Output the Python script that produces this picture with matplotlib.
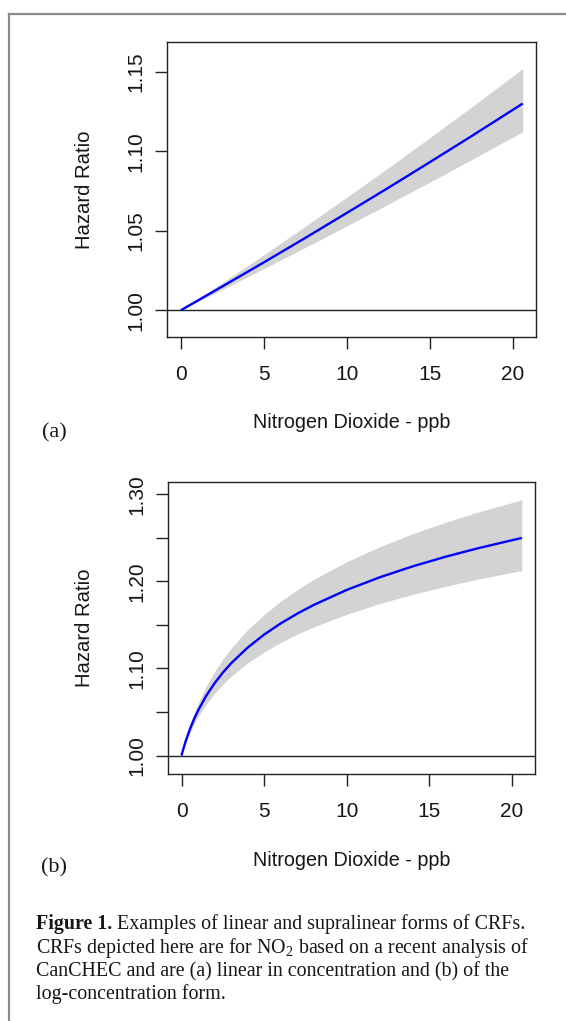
import matplotlib
matplotlib.use("Agg")
import matplotlib.pyplot as plt
from matplotlib.lines import Line2D

# ---------------- data ----------------
# Panel (a): linear CRF
no2_a = [0, 2.5, 5, 7.5, 10, 12.5, 15, 17.5, 20.6]
hr_a = [1.0, 1.0150, 1.0301, 1.0455, 1.0612, 1.0770, 1.0931, 1.1094, 1.1300]
hr_a_upper = [1.0, 1.0173, 1.0349, 1.0528, 1.0711, 1.0896, 1.1085, 1.1277, 1.1520]
hr_a_lower = [1.0, 1.0130, 1.0262, 1.0395, 1.0530, 1.0667, 1.0805, 1.0946, 1.1122]

# Panel (b): log-concentration CRF
no2_b = [0, 0.1, 0.25, 0.5, 0.75, 1, 1.5, 2, 2.5, 3, 4, 5, 6, 7, 8, 10, 12, 14, 16, 18, 20.6]
hr_b = [1.0, 1.0069, 1.0163, 1.0299, 1.0415, 1.0516, 1.0688, 1.0830, 1.0952, 1.1059,
        1.1239, 1.1389, 1.1517, 1.1629, 1.1729, 1.1902, 1.2047, 1.2173, 1.2284,
        1.2383, 1.2499]
hr_b_upper = [1.0, 1.0080, 1.0189, 1.0346, 1.0480, 1.0598, 1.0798, 1.0964, 1.1107,
              1.1232, 1.1444, 1.1620, 1.1771, 1.1904, 1.2022, 1.2226, 1.2398, 1.2548,
              1.2680, 1.2799, 1.2937]
hr_b_lower = [1.0, 1.0060, 1.0141, 1.0257, 1.0357, 1.0444, 1.0591, 1.0713, 1.0817,
              1.0908, 1.1062, 1.1189, 1.1298, 1.1393, 1.1477, 1.1622, 1.1745, 1.1851,
              1.1944, 1.2028, 1.2125]

x_ticks = [0, 5, 10, 15, 20]
yticks_a = [1.00, 1.05, 1.10, 1.15]
yticklabels_a = ["1.00", "1.05", "1.10", "1.15"]
yticks_b = [1.00, 1.05, 1.10, 1.15, 1.20, 1.25, 1.30]
yticklabels_b = ["1.00", "", "1.10", "", "1.20", "", "1.30"]

xlabel = "Nitrogen Dioxide - ppb"
ylabel = "Hazard Ratio"
panel_labels = ["(a)", "(b)"]

caption_bold = "Figure 1."
caption_line1 = " Examples of linear and supralinear forms of CRFs."
caption_lines = [
    "CRFs depicted here are for NO$_2$ based on a recent analysis of",
    "CanCHEC and are (a) linear in concentration and (b) of the",
    "log-concentration form.",
]

# ---------------- figure ----------------
W, H = 566, 1021
DPI = 100
fig = plt.figure(figsize=(W / DPI, H / DPI), dpi=DPI)
fig.patch.set_facecolor("white")

plt.rcParams["mathtext.fontset"] = "custom"
plt.rcParams["mathtext.rm"] = "Liberation Serif"
plt.rcParams["mathtext.it"] = "Liberation Serif:italic"
plt.rcParams["mathtext.bf"] = "Liberation Serif:bold"

SANS = "Liberation Sans"
SERIF = "Liberation Serif"
TXT = "#161616"
AX_COL = "#222222"
FS_TICK = 15
FS_XLAB = 14.2
FS_YLAB = 14.6


def fx(px):
    return px / W


def fy(py):
    return 1 - py / H


def make_panel(box, x, y, lo, hi, yticks, ylabels, ylim, xlab_y_px, panel_lbl, panel_y_px):
    left, top, right, bottom = box
    ax = fig.add_axes([fx(left), fy(bottom), fx(right) - fx(left), fy(top) - fy(bottom)])
    ax.fill_between(x, lo, hi, color="#D3D3D3", linewidth=0, zorder=1)
    ax.plot(x, y, color="#0000FF", lw=1.7, zorder=3, solid_capstyle="butt")
    ax.axhline(1.0, color=AX_COL, lw=1.0, zorder=2)
    ax.set_xlim(-0.824, 21.424)
    ax.set_ylim(*ylim)
    ax.set_xticks(x_ticks)
    ax.set_xticklabels([str(t) for t in x_ticks], fontfamily=SANS, fontsize=FS_TICK, color=TXT)
    ax.set_yticks(yticks)
    ax.set_yticklabels(ylabels, fontfamily=SANS, fontsize=FS_TICK, color=TXT,
                       rotation=90, va="center")
    ax.tick_params(axis="x", length=8.5, width=1.0, color=AX_COL, pad=12.0, direction="out")
    ax.tick_params(axis="y", length=8.5, width=1.0, color=AX_COL, pad=7.0, direction="out")
    for s in ax.spines.values():
        s.set_color(AX_COL)
        s.set_linewidth(1.0)
    cy = (top + bottom) / 2
    fig.text(fx(85), fy(cy), ylabel, rotation=90, ha="center", va="center",
             fontfamily=SANS, fontsize=FS_YLAB, color=TXT)
    fig.text(fx((left + right) / 2), fy(xlab_y_px), xlabel, ha="center", va="center",
             fontfamily=SANS, fontsize=FS_XLAB, color=TXT)
    fig.text(fx(54), fy(panel_y_px), panel_lbl, ha="center", va="center",
             fontfamily=SERIF, fontsize=16, color=TXT)
    return ax


make_panel((167.1, 42.3, 536.4, 336.7), no2_a, hr_a, hr_a_lower, hr_a_upper,
           yticks_a, yticklabels_a, (0.9834, 1.1685), 422.5, panel_labels[0], 432.5)
make_panel((167.9, 482.3, 535.4, 774.0), no2_b, hr_b, hr_b_lower, hr_b_upper,
           yticks_b, yticklabels_b, (0.9788, 1.3138), 860.4, panel_labels[1], 868)

# outer frame (top and left edges)
frame_col = "#8a8a8a"
fig.add_artist(Line2D([fx(8.7), 1.0], [fy(14), fy(14)], color=frame_col, lw=1.6,
                      transform=fig.transFigure))
fig.add_artist(Line2D([fx(8.7), fx(8.7)], [fy(14), 0.0], color=frame_col, lw=1.6,
                      transform=fig.transFigure))

# caption
cap_fs = 14.4
bold = fig.text(fx(36), fy(929), caption_bold, fontfamily=SERIF, fontweight="bold",
                fontsize=cap_fs, color=TXT, ha="left", va="baseline")
rest = fig.text(fx(100), fy(929), caption_line1, fontfamily=SERIF,
                fontsize=cap_fs, color=TXT, ha="left", va="baseline")
for i, line in enumerate(caption_lines):
    fig.text(fx(36), fy(953 + 23 * i), line, fontfamily=SERIF, fontsize=cap_fs,
             color=TXT, ha="left", va="baseline")

# position the rest of line 1 right after the bold part
fig.canvas.draw()
renderer = fig.canvas.get_renderer()
bb = bold.get_window_extent(renderer)
rest.set_position((bb.x1 / fig.bbox.width, fy(929)))

fig.savefig("out.png", dpi=DPI, facecolor="white")
